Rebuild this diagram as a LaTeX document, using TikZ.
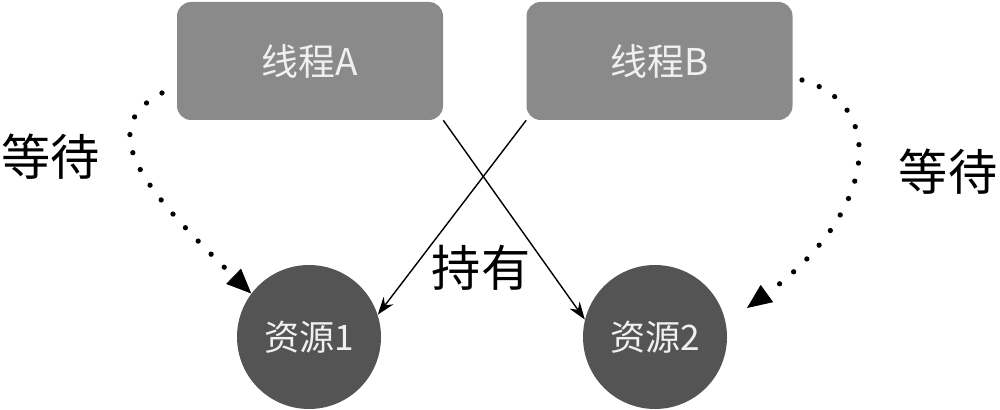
\documentclass[tikz,border=0pt]{standalone}
\usepackage{fontspec}
\setmainfont{Noto Sans CJK SC}
\usetikzlibrary{arrows.meta,positioning}
\definecolor{boxgray}{HTML}{8A8A8A}
\definecolor{resgray}{HTML}{545454}
\definecolor{labelwhite}{HTML}{F0F0F0}

\tikzset{
  threadbox/.style={fill=boxgray,rounded corners=8pt,minimum width=5.32cm,minimum height=2.36cm,
    text=labelwhite,font=\fontsize{21}{25}\selectfont},
  resnode/.style={circle,fill=resgray,minimum size=2.88cm,inner sep=0pt,
    text=labelwhite,font=\fontsize{20}{24}\selectfont},
  waitline/.style={line width=3pt,line cap=round,dash pattern=on 0pt off 10.5pt,
    -{Triangle[length=14pt,width=12pt,line width=0.4pt]}},
  holdline/.style={line width=0.8pt,-{Stealth[length=10pt,width=7pt]}},
  biglabel/.style={font=\fontsize{28}{32}\selectfont}
}

\begin{document}
\begin{tikzpicture}
  \useasboundingbox (0,0) rectangle (20,8.2);

  % Threads
  \node[threadbox] (tA) at (6.2,6.98) {线程A};
  \node[threadbox] (tB) at (13.19,6.98) {线程B};

  % Resources
  \node[resnode] (r1) at (6.18,1.46) {资源1};
  \node[resnode] (r2) at (13.1,1.46) {资源2};

  % Labels
  \node[biglabel] (waitL) at (1.02,5.06) {等待};
  \node[biglabel] (waitR) at (18.96,4.76) {等待};
  \node[biglabel] (hold) at (9.62,2.84) {持有};

  % Holding
  \draw[holdline] (tA.south east) -- (r2.166);
  \draw[holdline] (tB.south west) -- (r1.18);

  % Waiting
  \coordinate (wA) at (3.24,6.34);
  \coordinate (wB) at (16.04,6.6);
  \coordinate (wBend) at (14.94,2.04);
  \draw[waitline] (wA) .. controls (1.8,5.6) and (3.0,4.3) .. (r1.143);
  \draw[waitline] (wB) .. controls (17.8,6.1) and (17.5,3.9) .. (wBend);
\end{tikzpicture}
\end{document}
